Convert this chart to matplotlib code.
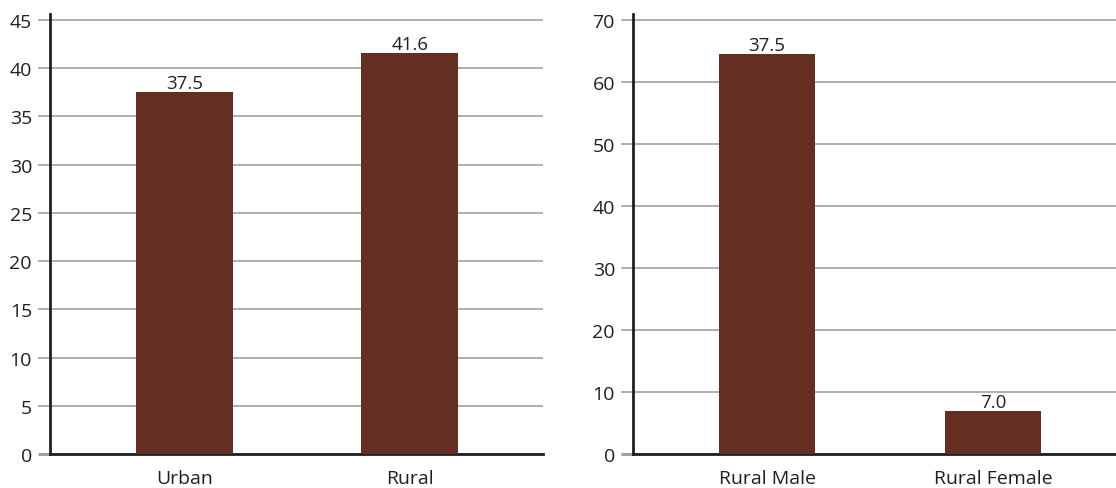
import matplotlib
matplotlib.use("Agg")
import matplotlib.pyplot as plt

plt.rcParams['font.family'] = ['Open Sans', 'DejaVu Sans']

left_cats = ["Urban", "Rural"]
left_vals = [37.5, 41.6]
left_labels = ["37.5", "41.6"]

right_cats = ["Rural Male", "Rural Female"]
right_vals = [64.5, 7.0]
right_labels = ["37.5", "7.0"]

bar_color = "#652e22"
grid_color = "#9a9a9a"

fig = plt.figure(figsize=(11.16, 4.89), dpi=100)
ax1 = fig.add_axes([50 / 1116, 1 - 455 / 489, 493 / 1116, 440 / 489])
ax2 = fig.add_axes([633 / 1116, 1 - 455 / 489, 483 / 1116, 440 / 489])


def style(ax, cats, vals, labels, ymax, step, top, xlim, width):
    x = list(range(len(cats)))
    bars = ax.bar(x, vals, width=width, color=bar_color, zorder=3)
    for b, lab in zip(bars, labels):
        ax.text(b.get_x() + b.get_width() / 2, b.get_height(), lab,
                ha="center", va="bottom", fontsize=13.5, color="#231f20")
    ax.set_xlim(*xlim)
    ax.set_ylim(0, top)
    ax.set_yticks(range(0, ymax + 1, step))
    ax.set_xticks(x)
    ax.set_xticklabels(cats)
    ax.grid(axis="y", color=grid_color, linewidth=1.1, zorder=0)
    for s in ["top", "right"]:
        ax.spines[s].set_visible(False)
    ax.spines["left"].set_linewidth(2)
    ax.spines["bottom"].set_linewidth(2)
    ax.spines["left"].set_color("#231f20")
    ax.spines["bottom"].set_color("#231f20")
    ax.tick_params(axis="y", length=9, width=1.1, color=grid_color,
                   labelsize=14, labelcolor="#231f20", pad=4)
    ax.tick_params(axis="x", length=0, labelsize=14, labelcolor="#231f20", pad=11)
    t0 = ax.yaxis.get_major_ticks()[0]
    t0.tick1line.set_color("#231f20")
    t0.tick1line.set_markeredgewidth(2)


style(ax1, left_cats, left_vals, left_labels, 45, 5, 45.6, (-0.597, 1.591), 0.43)
style(ax2, right_cats, right_vals, right_labels, 70, 10, 71.0, (-0.593, 1.544), 0.425)

fig.savefig("out.png", dpi=100)
